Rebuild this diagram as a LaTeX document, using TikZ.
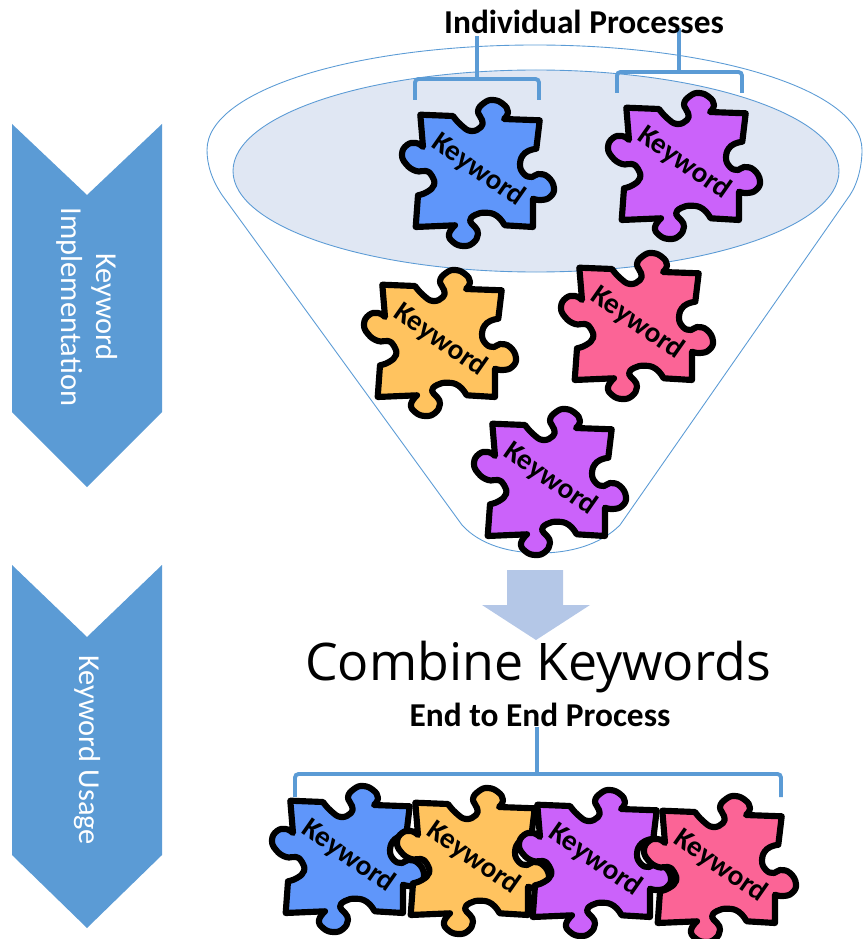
\documentclass[tikz,border=0pt]{standalone}
\usepackage{fontspec}
\setmainfont{Carlito}
\newfontfamily\titlefont{Open Sans}
\usetikzlibrary{positioning}
\pgfdeclarelayer{edgelayer}
\pgfdeclarelayer{nodelayer}
\pgfsetlayers{edgelayer,nodelayer,main}
\definecolor{lblue}{HTML}{5B9BD5}
\definecolor{lfill}{HTML}{E0E7F3}
\definecolor{larrow}{HTML}{B4C7E7}
\definecolor{pblue}{HTML}{5F96FA}
\definecolor{pviolet}{HTML}{CB62FA}
\definecolor{porange}{HTML}{FFC35F}
\definecolor{ppink}{HTML}{FB6496}
\tikzstyle{none}=[inner sep=0pt]
\tikzstyle{heading}=[inner sep=0pt,font=\fontsize{19}{23}\selectfont\bfseries]
\tikzstyle{sidelabel}=[inner sep=0pt,text=white,rotate=-90,align=center,font=\fontsize{17.3}{20}\selectfont]
\tikzstyle{word}=[inner sep=0pt,rotate=-35,font=\fontsize{16.5}{20}\selectfont\bfseries]
\tikzstyle{bracket}=[-,draw=lblue,line width=2.2pt,rounded corners=2pt]
\tikzstyle{stem}=[-,draw=lblue,line width=2.6pt]
\tikzstyle{chevron}=[fill=lblue]
\tikzstyle{funnel}=[draw=lblue,line width=0.5pt]
\tikzstyle{piece}=[draw=black,line width=3.5pt,line join=round]
\newcommand{\keyword}[4]{
	\begin{scope}[shift={(#2,#3)}]
		\draw [style=piece,fill=#4] (-57.7,-57.3)
			-- plot [smooth,tension=0.8] coordinates {(-25,-56) (-17,-47) (-7,-41) (3,-45) (4,-52) (0,-61) (6,-69) (15,-72) (25,-68) (30,-60) (26,-53)}
			-- (61.7,-51.7)
			-- plot [smooth,tension=0.8] coordinates {(58.3,-23.3) (47,-19) (42,-8) (46,2) (54,5) (60,2) (70,5) (76,16) (72,25) (63,28) (55,26.7)}
			-- (55,55)
			-- plot [smooth,tension=0.8] coordinates {(26.7,53.3) (19,44) (8,40.7) (-3,43) (-8,49) (-3,55) (0,62) (-5,71) (-15,74) (-25,70) (-29,62) (-23,53.3)}
			-- (-62.3,55)
			-- plot [smooth,tension=0.8] coordinates {(-60,23.3) (-51,20) (-44,13) (-46,4) (-52,-1) (-62,-1) (-72,-8) (-76,-18) (-71,-27) (-62,-29) (-55,-25)}
			-- cycle;
		\node [style=word] (#1) at (0,-2) {Keyword};
	\end{scope}
}

\begin{document}
\begin{tikzpicture}[x=0.02cm,y=-0.02cm]
	\useasboundingbox (0,0) rectangle (864,939);
	\begin{pgfonlayer}{edgelayer}
		% left chevrons
		\fill [style=chevron] (12,124) -- (87,195) -- (162,124) -- (162,412) -- (87,487) -- (12,412) -- cycle;
		\fill [style=chevron] (12,565) -- (87,637) -- (162,565) -- (162,855) -- (87,928) -- (12,855) -- cycle;
		% funnel
		\draw [style=funnel] (462,525) -- (222,195) .. controls (212,180) and (207,165) .. (207,150) .. controls (207,90) and (355,45) .. (535,45) .. controls (715,45) and (862,90) .. (862,150) .. controls (862,165) and (858,183) .. (850,195) -- (620,525) .. controls (600,545) and (570,553) .. (540,553) .. controls (510,553) and (480,545) .. (462,525) -- cycle;
		\draw [style=funnel,fill=lfill] (536,171) ellipse [x radius=303,y radius=101];
		% arrow
		\fill [color=larrow] (507,570) -- (563,570) -- (563,605) -- (590,605) -- (536,640) -- (482,605) -- (507,605) -- cycle;
	\end{pgfonlayer}
	\begin{pgfonlayer}{nodelayer}
		\node [style=sidelabel] (implementation) at (87,307) {Keyword\\Implementation};
		\node [style=sidelabel] (usage) at (87,750) {Keyword Usage};
		\node [style=heading] (individual) at (584,22) {Individual Processes};
		\node [style=heading] (endtoend) at (540,715) {End to End Process};
		\node [style=none,font=\fontsize{29.5}{34}\selectfont\titlefont] (combine) at (538,667) {Combine Keywords};
		\node [style=none] (ATL) at (415,100) {};
		\node [style=none] (AML) at (415,79) {};
		\node [style=none] (AMR) at (539,79) {};
		\node [style=none] (ABR) at (539,100) {};
		\node [style=none] (AC) at (477,79) {};
		\node [style=none] (AS) at (477,36) {};
		\node [style=none] (BTL) at (617,93) {};
		\node [style=none] (BML) at (617,72) {};
		\node [style=none] (BMR) at (742,72) {};
		\node [style=none] (BBR) at (742,93) {};
		\node [style=none] (BC) at (679,72) {};
		\node [style=none] (BS) at (679,28) {};
		\node [style=none] (CTL) at (295,797) {};
		\node [style=none] (CML) at (295,774) {};
		\node [style=none] (CMR) at (781,774) {};
		\node [style=none] (CBR) at (781,797) {};
		\node [style=none] (CC) at (537,774) {};
		\node [style=none] (CS) at (537,727) {};
		\keyword{kwa}{478}{172}{pblue}
		\keyword{kwb}{684}{165}{pviolet}
		\keyword{kwc}{440}{342}{porange}
		\keyword{kwd}{637}{325}{ppink}
		\keyword{kwe}{550}{481}{pviolet}
		\keyword{kwf}{348}{858}{pblue}
		\keyword{kwg}{473}{860}{porange}
		\keyword{kwh}{595}{862}{pviolet}
		\keyword{kwi}{720}{868}{ppink}
	\end{pgfonlayer}
	\begin{pgfonlayer}{edgelayer}
		\draw [style=bracket] (ATL.center) to (AML.center) to (AMR.center) to (ABR.center);
		\draw [style=stem] (AC.center) to (AS.center);
		\draw [style=bracket] (BTL.center) to (BML.center) to (BMR.center) to (BBR.center);
		\draw [style=stem] (BC.center) to (BS.center);
		\draw [style=bracket] (CTL.center) to (CML.center) to (CMR.center) to (CBR.center);
		\draw [style=stem] (CC.center) to (CS.center);
	\end{pgfonlayer}
\end{tikzpicture}
\end{document}
